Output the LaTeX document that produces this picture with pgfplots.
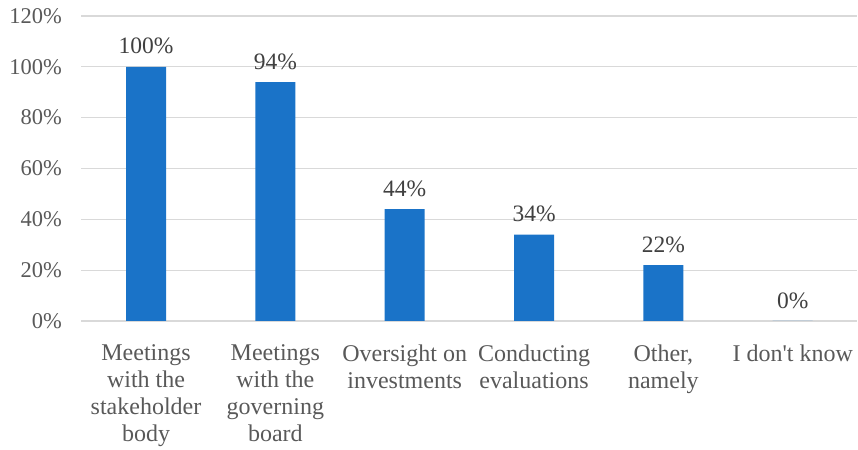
\documentclass[border=0pt]{standalone}
\usepackage{pgfplots}
\pgfplotsset{compat=1.18}
\usepackage{fontspec}
\setmainfont{Liberation Serif}
\definecolor{barblue}{HTML}{1A73C8}
\definecolor{gridgray}{HTML}{D9D9D9}
\definecolor{txtgray}{HTML}{595959}
\definecolor{lblgray}{HTML}{404040}
\begin{document}
\begin{tikzpicture}
\begin{axis}[
  scale only axis,
  width=776pt, height=305pt,
  xmin=-0.5, xmax=5.5,
  ymin=0, ymax=120,
  ytick={0,20,...,120},
  yticklabel={\pgfmathprintnumber{\tick}\%},
  /pgf/number format/assume math mode=true,
  xtick={0,1,2,3,4,5},
  xticklabels={{Meetings\\with the\\stakeholder\\body},{Meetings\\with the\\governing\\board},{Oversight on\\investments},{Conducting\\evaluations},{Other,\\namely},{I don\textquotesingle t know}},
  xticklabel style={align=center, text=txtgray, font=\fontsize{24}{27}\selectfont, anchor=north, yshift=-20pt},
  yticklabel style={text=txtgray, font=\fontsize{22.5}{27}\selectfont, xshift=-16pt},
  axis line style={draw=none},
  major tick length=0pt,
  ymajorgrids,
  grid style={gridgray, line width=1.2pt},
  ybar,
  bar width=40pt,
  nodes near coords={\pgfmathprintnumber{\pgfplotspointmeta}\%},
  nodes near coords style={text=lblgray, font=\fontsize{23.5}{27}\selectfont, anchor=south, yshift=9pt},
  clip=false,
]
\addplot[fill=barblue, draw=none] coordinates {(0,100) (1,94) (2,44) (3,34) (4,22) (5,0)};
\end{axis}
\path ([yshift=5pt]current bounding box.north);
\path ([xshift=-6pt]current bounding box.west);
\end{tikzpicture}
\end{document}
